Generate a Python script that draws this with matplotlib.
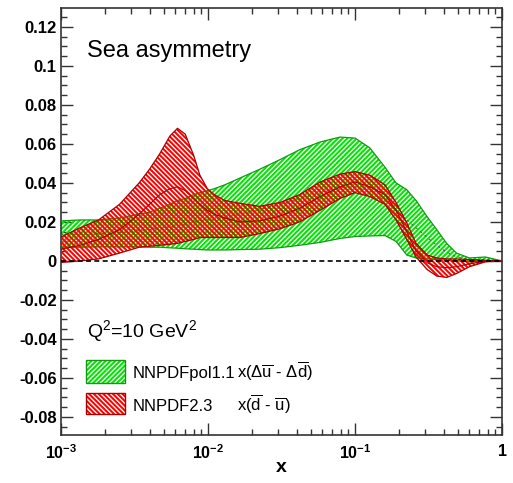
import numpy as np
import matplotlib
matplotlib.use("Agg")
import matplotlib.pyplot as plt
from matplotlib.patches import Rectangle
from matplotlib.ticker import FixedLocator, MultipleLocator, LogLocator, NullFormatter

plt.rcParams['font.family'] = ['Liberation Sans', 'DejaVu Sans']
plt.rcParams['mathtext.fontset'] = 'custom'
plt.rcParams['mathtext.rm'] = 'Liberation Sans'
plt.rcParams['mathtext.it'] = 'Liberation Sans:italic'
plt.rcParams['mathtext.bf'] = 'Liberation Sans:bold'
plt.rcParams['hatch.linewidth'] = 1.45

# -----------------------------
# data
# -----------------------------
x = [0.001, 0.00135, 0.0018, 0.0025, 0.0034, 0.004, 0.0047, 0.0055, 0.0062, 0.007,
     0.008, 0.0088, 0.0099, 0.011, 0.013, 0.0165, 0.0225, 0.031, 0.042, 0.058,
     0.079, 0.1, 0.126, 0.16, 0.19, 0.225, 0.26, 0.31, 0.36, 0.42,
     0.49, 0.6, 0.77, 1.0]

# NNPDFpol1.1  x(Delta ubar - Delta dbar)
pol_up = [0.0205, 0.021, 0.021, 0.022, 0.024, 0.025, 0.027, 0.029, 0.031, 0.032,
          0.034, 0.035, 0.036, 0.037, 0.039, 0.0425, 0.047, 0.052, 0.057, 0.061,
          0.0635, 0.063, 0.058, 0.048, 0.040, 0.0365, 0.031, 0.0226, 0.016, 0.009,
          0.004, 0.0015, 0.002, 0.0]
pol_lo = [0.007, 0.007, 0.0072, 0.0072, 0.0072, 0.007, 0.007, 0.0067, 0.0065, 0.0062,
          0.006, 0.0058, 0.0056, 0.0056, 0.0056, 0.0058, 0.006, 0.0068, 0.008, 0.0095,
          0.0115, 0.0125, 0.0128, 0.013, 0.010, 0.003, 0.0015, 0.001, 0.0007, 0.0004,
          0.0, -0.0005, -0.0003, 0.0]
pol_cv = [0.0135, 0.0138, 0.014, 0.0145, 0.0155, 0.016, 0.017, 0.0175, 0.018, 0.019,
          0.020, 0.0205, 0.021, 0.0215, 0.0225, 0.024, 0.0265, 0.029, 0.032, 0.035,
          0.0375, 0.038, 0.036, 0.031, 0.026, 0.021, 0.017, 0.012, 0.008, 0.0045,
          0.002, 0.0005, 0.0008, 0.0]

# NNPDF2.3  x(dbar - ubar)
nn_up = [0.0123, 0.017, 0.021, 0.029, 0.040, 0.047, 0.055, 0.064, 0.068, 0.065,
         0.054, 0.044, 0.037, 0.034, 0.031, 0.0295, 0.028, 0.030, 0.034, 0.0405,
         0.0445, 0.0458, 0.044, 0.039, 0.030, 0.0195, 0.009, 0.003, 0.0015, 0.001,
         0.001, 0.0007, 0.0003, 0.0]
nn_lo = [-0.0008, 0.0, 0.001, 0.004, 0.007, 0.0075, 0.008, 0.0085, 0.009, 0.010,
         0.011, 0.012, 0.012, 0.012, 0.012, 0.012, 0.014, 0.0165, 0.020, 0.026,
         0.032, 0.035, 0.033, 0.029, 0.021, 0.011, 0.002, -0.0045, -0.0078, -0.0085,
         -0.0065, -0.003, -0.0005, 0.0]
nn_cv = [0.006, 0.008, 0.011, 0.016, 0.024, 0.029, 0.034, 0.037, 0.038, 0.036,
         0.032, 0.029, 0.026, 0.024, 0.022, 0.020, 0.0205, 0.023, 0.027, 0.033,
         0.038, 0.0405, 0.038, 0.034, 0.026, 0.015, 0.005, -0.001, -0.003, -0.0035,
         -0.003, -0.0015, -0.0003, 0.0]

green = "#00e400"
green_edge = "#119911"
red = "#ff0000"
red_edge = "#aa0000"
hatch_g = "/" * 7
hatch_r = "\\" * 7

fig = plt.figure(figsize=(5.13, 4.83), dpi=100)
ax = fig.add_axes([0.1189, 0.0994, 0.8597, 0.884])

# green band
ax.fill_between(x, pol_lo, pol_up, facecolor="none", edgecolor=green,
                hatch=hatch_g, linewidth=0, zorder=2)
ax.plot(x, pol_up, color=green_edge, lw=0.9, zorder=3)
ax.plot(x, pol_lo, color=green_edge, lw=0.9, zorder=3)
ax.plot(x, pol_cv, color="#336633", lw=0.6, ls=(0, (3, 4)), zorder=3)

# red band
ax.fill_between(x, nn_lo, nn_up, facecolor="none", edgecolor=red,
                hatch=hatch_r, linewidth=0, zorder=4)
ax.plot(x, nn_up, color=red_edge, lw=0.9, zorder=5)
ax.plot(x, nn_lo, color=red_edge, lw=0.9, zorder=5)
ax.plot(x, nn_cv, color=red_edge, lw=0.8, zorder=5)

ax.axhline(0, color="black", lw=1.2, ls=(0, (3, 2)), zorder=6)

ax.set_xscale("log")
ax.set_xlim(1e-3, 1)
ax.set_ylim(-0.0893, 0.1297)

ax.xaxis.set_major_locator(FixedLocator([1e-3, 1e-2, 1e-1, 1]))
ax.set_xticklabels([r"$\mathbf{10^{-3}}$", r"$\mathbf{10^{-2}}$",
                    r"$\mathbf{10^{-1}}$", r"$\mathbf{1}$"])
ax.xaxis.set_minor_locator(LogLocator(base=10, subs=np.arange(2, 10), numticks=20))
ax.xaxis.set_minor_formatter(NullFormatter())

ax.yaxis.set_minor_locator(MultipleLocator(0.005))
yt = np.arange(-0.08, 0.121, 0.02)
ax.set_yticks(yt)
ax.set_yticklabels(["%g" % round(v, 2) if abs(v) > 1e-9 else "0" for v in yt],
                   fontweight="bold")

ax.tick_params(which="both", direction="in", top=True, right=True, width=1.0,
               colors="#333333", labelcolor="black")
ax.tick_params(which="major", length=8.5)
ax.tick_params(which="minor", length=4.5)
ax.tick_params(axis="y", labelsize=12, pad=3)
ax.tick_params(axis="x", labelsize=11.5, pad=6)
for s in ax.spines.values():
    s.set_linewidth(1.2)
    s.set_color("#333333")

ax.set_xlabel("x", fontsize=14, fontweight="bold", labelpad=-2)

ax.text(0.059, 0.885, "Sea asymmetry", transform=ax.transAxes, fontsize=17)
ax.text(0.059, 0.2295, r"Q$^{2}$=10 GeV$^{2}$", transform=ax.transAxes, fontsize=14)

# legend drawn by hand
ax.add_patch(Rectangle((0.0567, 0.1218), 0.0884, 0.0538, transform=ax.transAxes,
                       facecolor="none", edgecolor=green, hatch=hatch_g,
                       linewidth=0, zorder=7))
ax.add_patch(Rectangle((0.0567, 0.1218), 0.0884, 0.0538, transform=ax.transAxes,
                       facecolor="none", edgecolor=green_edge, lw=1.0, zorder=8))
ax.add_patch(Rectangle((0.0567, 0.0492), 0.0884, 0.0492, transform=ax.transAxes,
                       facecolor="none", edgecolor=red, hatch=hatch_r,
                       linewidth=0, zorder=7))
ax.add_patch(Rectangle((0.0567, 0.0492), 0.0884, 0.0492, transform=ax.transAxes,
                       facecolor="none", edgecolor=red_edge, lw=1.0, zorder=8))

ax.text(0.163, 0.1335, "NNPDFpol1.1", transform=ax.transAxes, fontsize=12)
ax.text(0.399, 0.1335, r"x($\Delta\overline{\mathrm{u}}$ - $\Delta\overline{\mathrm{d}}$)",
        transform=ax.transAxes, fontsize=12)
ax.text(0.163, 0.056, "NNPDF2.3", transform=ax.transAxes, fontsize=12)
ax.text(0.399, 0.056, r"x($\overline{\mathrm{d}}$ - $\overline{\mathrm{u}}$)",
        transform=ax.transAxes, fontsize=12)

fig.savefig("out.png", dpi=100)
